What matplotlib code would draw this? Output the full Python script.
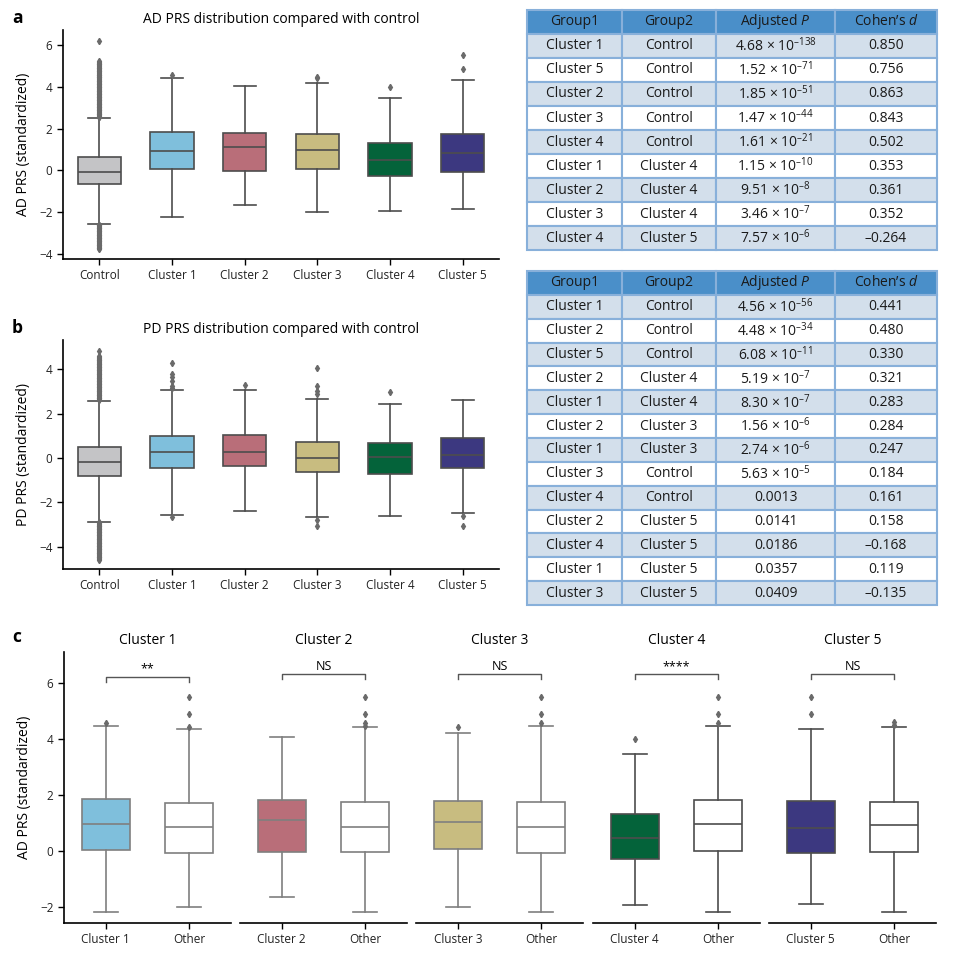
import matplotlib
matplotlib.use("Agg")
import matplotlib.pyplot as plt

plt.rcParams['font.family'] = ['Open Sans', 'DejaVu Sans']
plt.rcParams['mathtext.fontset'] = 'custom'
plt.rcParams['mathtext.rm'] = 'Open Sans'
plt.rcParams['mathtext.it'] = 'Open Sans:italic'

W, H = 972, 957

groups = ['Control', 'Cluster 1', 'Cluster 2', 'Cluster 3', 'Cluster 4', 'Cluster 5']
colors = ['#c4c4c6', '#7fbfdc', '#b96e79', '#c8bc80', '#04633a', '#3c3880']

# box stats: (whislo, q1, med, q3, whishi)
ad_stats = [(-2.57, -0.67, -0.10, 0.62, 2.52),
            (-2.21, 0.05, 0.95, 1.84, 4.43),
            (-1.67, -0.05, 1.10, 1.79, 4.05),
            (-2.00, 0.05, 1.00, 1.75, 4.19),
            (-1.95, -0.29, 0.48, 1.33, 3.48),
            (-1.86, -0.10, 0.81, 1.75, 4.33)]
ad_fliers = [[2.55, 2.58, 2.62, 2.65, 2.69, 2.72, 2.76, 2.8, 2.83, 2.87, 2.91, 2.94, 2.98, 3.02,
              3.05, 3.09, 3.13, 3.16, 3.2, 3.24, 3.27, 3.31, 3.35, 3.38, 3.42, 3.46, 3.49, 3.53,
              3.57, 3.6, 3.64, 3.68, 3.71, 3.75, 3.79, 3.82, 3.86, 3.9, 3.93, 3.97, 4.01, 4.04,
              4.08, 4.12, 4.15, 4.19, 4.23, 4.26, 4.3, 4.34, 4.37, 4.41, 4.45, 4.48, 4.52, 4.56,
              4.59, 4.63, 4.67, 4.7, 4.74, 4.78, 4.81, 4.85, 4.89, 4.92, 4.96, 5.0, 5.03, 5.07,
              5.11, 5.14, 5.18, 5.22, 6.17,
              -2.59, -2.63, -2.67, -2.7, -2.74, -2.78, -2.81, -2.85, -2.89, -2.92, -2.96, -3.0,
              -3.03, -3.07, -3.11, -3.14, -3.18, -3.22, -3.25, -3.29, -3.33, -3.36, -3.4, -3.44,
              -3.47, -3.51, -3.55, -3.58, -3.62, -3.66, -3.69, -3.73, -3.76],
             [4.59], [], [4.41, 4.46], [4.0], [4.87, 5.51]]

pd_stats = [(-2.87, -0.83, -0.17, 0.51, 2.59),
            (-2.56, -0.44, 0.29, 1.01, 3.08),
            (-2.38, -0.35, 0.29, 1.05, 3.08),
            (-2.65, -0.62, 0.02, 0.74, 2.68),
            (-2.60, -0.71, 0.06, 0.69, 2.45),
            (-2.47, -0.47, 0.15, 0.89, 2.63)]
pd_fliers = [[2.62, 2.65, 2.69, 2.72, 2.76, 2.79, 2.83, 2.86, 2.9, 2.93, 2.97, 3.0, 3.04, 3.07,
              3.11, 3.14, 3.18, 3.21, 3.25, 3.28, 3.32, 3.35, 3.39, 3.42, 3.46, 3.49, 3.53, 3.56,
              3.6, 3.63, 3.67, 3.7, 3.74, 3.77, 3.81, 3.84, 3.88, 3.91, 3.95, 3.98, 4.02, 4.05,
              4.09, 4.12, 4.16, 4.19, 4.23, 4.26, 4.3, 4.33, 4.37, 4.4, 4.44, 4.47, 4.51, 4.55,
              4.6, 4.83,
              -2.9, -2.93, -2.97, -3.0, -3.04, -3.07, -3.11, -3.14, -3.18, -3.21, -3.25, -3.28,
              -3.32, -3.35, -3.39, -3.42, -3.46, -3.49, -3.53, -3.56, -3.6, -3.63, -3.67, -3.7,
              -3.74, -3.77, -3.81, -3.84, -3.88, -3.91, -3.95, -3.98, -4.02, -4.05, -4.09, -4.12,
              -4.16, -4.19, -4.23, -4.26, -4.3, -4.33, -4.37, -4.4, -4.44, -4.47, -4.51, -4.55,
              -4.59],
             [3.14, 3.23, 3.47, 3.65, 3.77, 4.29, -2.66],
             [3.28],
             [2.9, 3.01, 3.25, 4.06, -2.81, -3.07],
             [2.96],
             [-2.59, -3.07]]

# panel c: cluster vs other
c_titles = ['Cluster 1', 'Cluster 2', 'Cluster 3', 'Cluster 4', 'Cluster 5']
c_signif = ['**', 'NS', 'NS', '****', 'NS']
c_cluster_stats = [(-2.18, 0.04, 0.96, 1.86, 4.46),
                   (-1.64, -0.04, 1.11, 1.82, 4.07),
                   (-2.00, 0.07, 1.04, 1.79, 4.21),
                   (-1.93, -0.29, 0.46, 1.32, 3.46),
                   (-1.89, -0.07, 0.82, 1.79, 4.36)]
c_cluster_fliers = [[4.6], [], [4.44], [4.01], [4.89, 5.52]]
c_other_stats = [(-2.00, -0.07, 0.86, 1.71, 4.36),
                 (-2.18, -0.04, 0.86, 1.75, 4.43),
                 (-2.18, -0.07, 0.86, 1.75, 4.46),
                 (-2.18, 0.00, 0.96, 1.82, 4.46),
                 (-2.18, -0.04, 0.93, 1.75, 4.43)]
c_other_fliers = [[4.45, 4.89, 5.52], [4.48, 4.6, 4.89, 5.52], [4.58, 4.89, 5.52],
                  [4.58, 4.89, 5.52], [4.5, 4.61]]

# tables
cols = ['Group1', 'Group2', 'Adjusted $\\it{P}$', 'Cohen\u2019s $\\it{d}$']
ad_g1 = ['Cluster 1', 'Cluster 5', 'Cluster 2', 'Cluster 3', 'Cluster 4',
         'Cluster 1', 'Cluster 2', 'Cluster 3', 'Cluster 4']
ad_g2 = ['Control', 'Control', 'Control', 'Control', 'Control',
         'Cluster 4', 'Cluster 4', 'Cluster 4', 'Cluster 5']
ad_p = [('4.68', '-138'), ('1.52', '-71'), ('1.85', '-51'), ('1.47', '-44'), ('1.61', '-21'),
        ('1.15', '-10'), ('9.51', '-8'), ('3.46', '-7'), ('7.57', '-6')]
ad_d = ['0.850', '0.756', '0.863', '0.843', '0.502', '0.353', '0.361', '0.352', '\u20130.264']

pd_g1 = ['Cluster 1', 'Cluster 2', 'Cluster 5', 'Cluster 2', 'Cluster 1', 'Cluster 2', 'Cluster 1',
         'Cluster 3', 'Cluster 4', 'Cluster 2', 'Cluster 4', 'Cluster 1', 'Cluster 3']
pd_g2 = ['Control', 'Control', 'Control', 'Cluster 4', 'Cluster 4', 'Cluster 3', 'Cluster 3',
         'Control', 'Control', 'Cluster 5', 'Cluster 5', 'Cluster 5', 'Cluster 5']
pd_p = [('4.56', '-56'), ('4.48', '-34'), ('6.08', '-11'), ('5.19', '-7'), ('8.30', '-7'),
        ('1.56', '-6'), ('2.74', '-6'), ('5.63', '-5'), '0.0013', '0.0141', '0.0186',
        '0.0357', '0.0409']
pd_d = ['0.441', '0.480', '0.330', '0.321', '0.283', '0.284', '0.247', '0.184', '0.161',
        '0.158', '\u20130.168', '0.119', '\u20130.135']


def fmt_p(p):
    if isinstance(p, tuple):
        return p[0] + ' \u00d7 10$^{\\mathregular{' + p[1].replace('-', '\u2013') + '}}$'
    return p


def make_stats(stats, fliers):
    out = []
    for (lo, q1, med, q3, hi), fl in zip(stats, fliers):
        out.append(dict(whislo=lo, q1=q1, med=med, q3=q3, whishi=hi, fliers=fl))
    return out


def px_axes(fig, x0, y0, x1, y1):
    return fig.add_axes([x0 / W, 1 - y1 / H, (x1 - x0) / W, (y1 - y0) / H])


def draw_boxes(ax, stats, fliers, fills, positions, width, capw, lc):
    bp = ax.bxp(make_stats(stats, fliers), positions=positions, widths=width,
                capwidths=capw, patch_artist=True,
                boxprops=dict(edgecolor=lc, linewidth=1.2),
                medianprops=dict(color=lc, linewidth=1.2),
                whiskerprops=dict(color=lc, linewidth=1.2),
                capprops=dict(color=lc, linewidth=1.2),
                flierprops=dict(marker='d', markersize=3.2, markerfacecolor='#6a6a6a',
                                markeredgecolor='#6a6a6a', linestyle='none'))
    for patch, c in zip(bp['boxes'], fills):
        patch.set_facecolor(c)
    return bp


def style_axes(ax):
    for s in ['top', 'right']:
        ax.spines[s].set_visible(False)
    ax.tick_params(labelsize=8.5, length=4, width=1, labelcolor='#222222')
    ax.spines['left'].set_linewidth(1.2)
    ax.spines['bottom'].set_linewidth(1.2)


def draw_table(ax, g1, g2, pv, dv):
    ax.axis('off')
    rows = [[a, b, fmt_p(p), d] for a, b, p, d in zip(g1, g2, pv, dv)]
    tb = ax.table(cellText=rows, colLabels=cols, cellLoc='center', bbox=[0, 0, 1, 1],
                  colWidths=[95 / 410, 94 / 410, 119 / 410, 102 / 410])
    tb.auto_set_font_size(False)
    for (r, c), cell in tb.get_celld().items():
        cell.set_edgecolor('#88b0da')
        cell.set_linewidth(1.5)
        cell.get_text().set_fontsize(10)
        cell.get_text().set_color('#1a1a1a')
        if r == 0:
            cell.set_facecolor('#4a8fc9')
        elif r % 2 == 1:
            cell.set_facecolor('#d3dfeb')
        else:
            cell.set_facecolor('white')


fig = plt.figure(figsize=(W / 100, H / 100), dpi=100)

# panel a
ax_a = px_axes(fig, 63, 30, 499, 259)
draw_boxes(ax_a, ad_stats, ad_fliers, colors, range(6), 0.6, 0.3, '#4d4d4d')
ax_a.set_xlim(-0.5, 5.5)
ax_a.set_ylim(-4.24, 6.72)
ax_a.set_yticks([-4, -2, 0, 2, 4, 6])
ax_a.set_xticks(range(6))
ax_a.set_xticklabels(groups)
ax_a.set_ylabel('AD PRS (standardized)', fontsize=10, labelpad=6)
ax_a.set_title('AD PRS distribution compared with control', fontsize=10, pad=5)
style_axes(ax_a)
fig.text(12 / W, 1 - 18 / H, 'a', fontsize=12.5, fontweight='bold', va='center')

# panel b
ax_b = px_axes(fig, 63, 340, 499, 569)
draw_boxes(ax_b, pd_stats, pd_fliers, colors, range(6), 0.6, 0.3, '#4d4d4d')
ax_b.set_xlim(-0.5, 5.5)
ax_b.set_ylim(-5.0, 5.32)
ax_b.set_yticks([-4, -2, 0, 2, 4])
ax_b.set_xticks(range(6))
ax_b.set_xticklabels(groups)
ax_b.set_ylabel('PD PRS (standardized)', fontsize=10, labelpad=6)
ax_b.set_title('PD PRS distribution compared with control', fontsize=10, pad=5)
style_axes(ax_b)
fig.text(12 / W, 1 - 328 / H, 'b', fontsize=12.5, fontweight='bold', va='center')

# tables
draw_table(px_axes(fig, 527, 10, 937, 250), ad_g1, ad_g2, ad_p, ad_d)
draw_table(px_axes(fig, 527, 271, 937, 605), pd_g1, pd_g2, pd_p, pd_d)

# panel c
lefts = [64, 240, 416, 593, 769]
line_cols = ['#7f7f7f', '#7f7f7f', '#7f7f7f', '#4d4d4d', '#4d4d4d']
for i in range(5):
    ax = px_axes(fig, lefts[i], 652, lefts[i] + 167, 923)
    draw_boxes(ax, [c_cluster_stats[i], c_other_stats[i]],
               [c_cluster_fliers[i], c_other_fliers[i]],
               [colors[i + 1], 'white'], [0, 1], 0.58, 0.29, line_cols[i])
    ax.set_xlim(-0.5, 1.5)
    ax.set_ylim(-2.56, 7.12)
    ax.set_xticks([0, 1])
    ax.set_xticklabels([c_titles[i], 'Other'])
    ax.set_title(c_titles[i], fontsize=10, pad=6)
    style_axes(ax)
    if i == 0:
        ax.set_yticks([-2, 0, 2, 4, 6])
        ax.set_ylabel('AD PRS (standardized)', fontsize=10, labelpad=6)
        yb = 6.24
    else:
        ax.spines['left'].set_visible(False)
        ax.set_yticks([])
        yb = 6.32
    ax.plot([0, 0, 1, 1], [yb - 0.18, yb, yb, yb - 0.18], color='#555555', lw=1)
    ax.text(0.5, yb + 0.05, c_signif[i], ha='center', va='bottom', fontsize=9)
fig.text(12 / W, 1 - 637 / H, 'c', fontsize=12.5, fontweight='bold', va='center')

fig.savefig('out.png', dpi=100)
